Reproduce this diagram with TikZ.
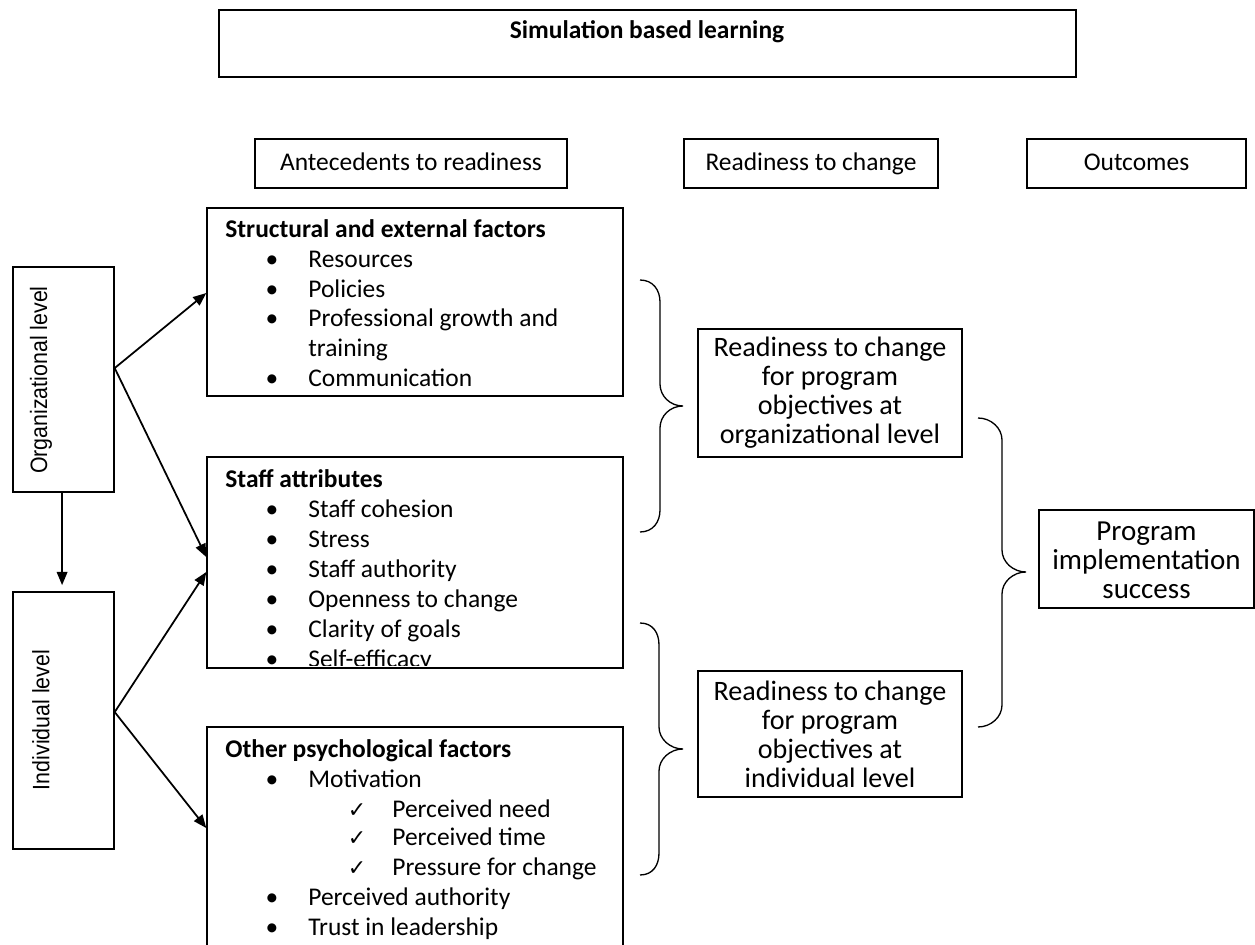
\documentclass[tikz,border=0pt]{standalone}
\usepackage{fontspec}
\setmainfont{Carlito}
\newfontfamily\narrowfont[FakeStretch=0.9]{Liberation Sans}
\newfontfamily\symfont{DejaVu Sans}
\usetikzlibrary{arrows.meta, fit}
\newcommand{\wordbrace}[6]{% x0, xv, xtip, ytop, ytip, ybot
  \draw[brc] (#1,#4) .. controls (#1+13,#4) and (#2,#4+10) .. (#2,#4+22)
    -- (#2,#5-22) .. controls (#2,#5-10) and (#3-13,#5) .. (#3,#5)
    .. controls (#3-13,#5) and (#2,#5+10) .. (#2,#5+22)
    -- (#2,#6-22) .. controls (#2,#6-10) and (#1+13,#6) .. (#1,#6);}
\begin{document}
\begin{tikzpicture}[x=0.02cm, y=-0.02cm,
  box/.style={draw, line width=0.8pt, inner sep=0pt},
  htxt/.style={anchor=base, inner sep=0pt, font=\fontsize{14.5}{17}\selectfont},
  rtxt/.style={inner sep=0pt, font=\fontsize{16}{16.5}\selectfont, align=center},
  body/.style={anchor=base west, inner sep=0pt, font=\fontsize{14.5}{17}\selectfont},
  ttl/.style={anchor=base west, inner sep=0pt, font=\bfseries\fontsize{14.5}{17}\selectfont},
  bul/.style={anchor=base, inner sep=0pt, font=\fontsize{14.5}{17}\selectfont},
  chk/.style={anchor=base, inner sep=0pt, font=\symfont\fontsize{12.5}{13}\selectfont},
  lvl/.style={rotate=90, inner sep=0pt, font=\narrowfont\fontsize{13.5}{15}\selectfont},
  arr/.style={line width=1pt, -{Triangle[length=7.5pt,width=6pt]}},
  brc/.style={line width=0.75pt}
]
\useasboundingbox (0,0) rectangle (1255,945);
\clip (0,0) rectangle (1255,945);

% top title
\node[box, fit={(219,10) (1076,77)}] (sim) {};
\node[anchor=base, inner sep=0pt, font=\bfseries\fontsize{14.5}{17}\selectfont] (simt) at (647,39) {Simulation based learning};

% column headers
\node[box, fit={(255,139) (567,188)}] (hant) {};
\node[htxt] (hantt) at (411,171) {Antecedents to readiness};
\node[box, fit={(684,139) (938,188)}] (hrdy) {};
\node[htxt] (hrdyt) at (811,171) {Readiness to change};
\node[box, fit={(1027,139) (1246,188)}] (hout) {};
\node[htxt] (houtt) at (1136.5,171) {Outcomes};

% level boxes
\node[box, fit={(13,267) (114,492)}] (org) {};
\node[lvl] (orgt) at (41,380) {Organizational level};
\node[box, fit={(13,592) (114,849)}] (ind) {};
\node[lvl] (indt) at (41,720) {Individual level};

% structural box
\node[box, fit={(207,208) (623,396)}] (struct) {};
\node[ttl] (s0) at (225,238) {Structural and external factors};
\node[bul] (sb1) at (272,268) {•}; \node[body] (s1) at (308,268) {Resources};
\node[bul] (sb2) at (272,298) {•}; \node[body] (s2) at (308,298) {Policies};
\node[bul] (sb3) at (272,327) {•}; \node[body] (s3) at (308,327) {Professional growth and};
\node[body] (s3b) at (308,357) {training};
\node[bul] (sb4) at (272,387) {•}; \node[body] (s4) at (308,387) {Communication};

% staff box
\node[box, fit={(207,457) (623,668)}] (staff) {};
\begin{scope}
\clip (207,457) rectangle (623,665.5);
\node[ttl] (t0) at (225,488) {Staff attributes};
\node[bul] (tb1) at (272,518) {•}; \node[body] (t1) at (308,518) {Staff cohesion};
\node[bul] (tb2) at (272,548) {•}; \node[body] (t2) at (308,548) {Stress};
\node[bul] (tb3) at (272,578) {•}; \node[body] (t3) at (308,578) {Staff authority};
\node[bul] (tb4) at (272,608) {•}; \node[body] (t4) at (308,608) {Openness to change};
\node[bul] (tb5) at (272,638) {•}; \node[body] (t5) at (308,638) {Clarity of goals};
\node[bul] (tb6) at (272,668) {•}; \node[body] (t6) at (308,668) {Self-efficacy};
\end{scope}

% other psychological box
\node[box, fit={(207,727) (623,960)}] (other) {};
\node[ttl] (p0) at (225,758) {Other psychological factors};
\node[bul] (pb1) at (272,787.5) {•}; \node[body] (p1) at (308,787.5) {Motivation};
\node[chk] (pc1) at (357,817) {✓}; \node[body] (p2) at (392,817) {Perceived need};
\node[chk] (pc2) at (357,846) {✓}; \node[body] (p3) at (392,846) {Perceived time};
\node[chk] (pc3) at (357,875) {✓}; \node[body] (p4) at (392,875) {Pressure for change};
\node[bul] (pb5) at (272,905) {•}; \node[body] (p5) at (308,905) {Perceived authority};
\node[bul] (pb6) at (272,935) {•}; \node[body] (p6) at (308,935) {Trust in leadership};

% readiness boxes
\node[box, fit={(698,329) (962,457)}] (rorg) {};
\node[rtxt] (rorgt) at (rorg.center) {Readiness to change\\for program\\objectives at\\organizational level};
\node[box, fit={(698,671) (962,797)}] (rind) {};
\node[rtxt] (rindt) at (rind.center) {Readiness to change\\for program\\objectives at\\individual level};

% outcome box
\node[box, fit={(1039,510) (1254,608)}] (prog) {};
\node[rtxt, font=\fontsize{16.5}{16.5}\selectfont] (progt) at ([yshift=-1pt]prog.center) {Program\\implementation\\success};

% arrows
\draw[arr] ([yshift=6.5pt]org.east) -- ([yshift=5.1pt]struct.west);
\draw[arr] ([yshift=6.5pt]org.east) -- ([yshift=3.1pt]staff.west);
\draw[arr] ([yshift=4.8pt]ind.east) -- ([yshift=-5.4pt]staff.west);
\draw[arr] ([yshift=4.8pt]ind.east) -- ([yshift=8.8pt]other.west);
\draw[arr, shorten >=3.5pt] ([xshift=-0.8pt]org.south) -- ([xshift=-0.8pt]ind.north);

% braces
\wordbrace{640}{660}{683}{280}{406}{532}
\wordbrace{640}{659}{683}{623}{749}{875}
\wordbrace{978}{1002}{1026}{418}{572}{727}
\end{tikzpicture}
\end{document}
